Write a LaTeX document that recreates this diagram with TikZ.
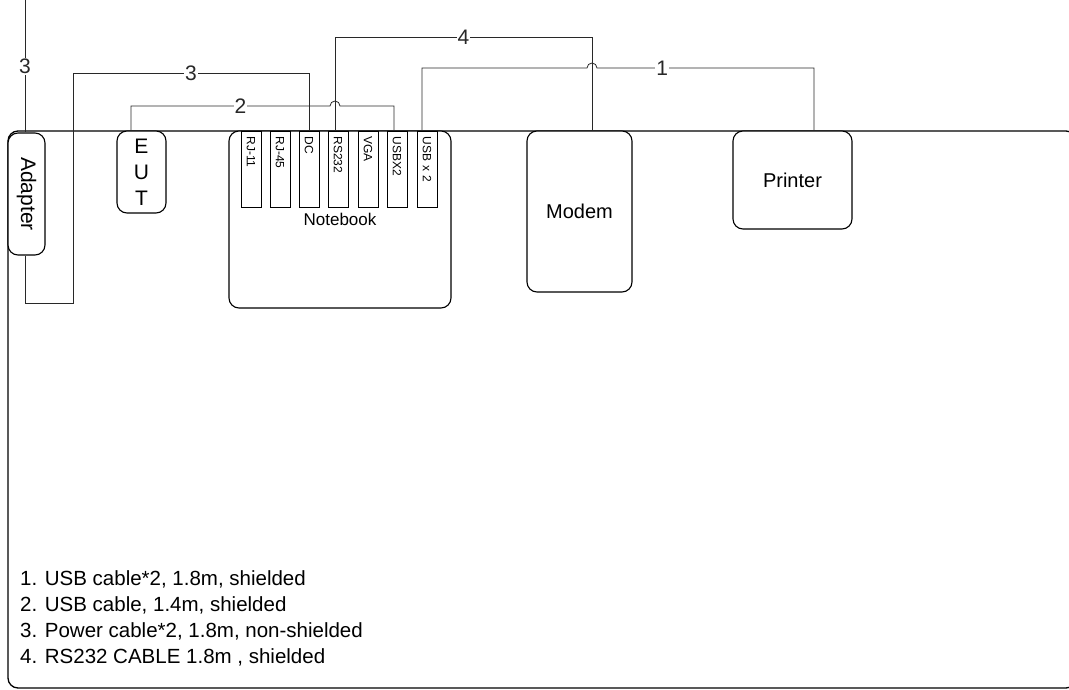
\documentclass[tikz,border=0pt]{standalone}
\usepackage{fontspec}
\setmainfont{Liberation Sans}
\usepackage{tikz}
\usetikzlibrary{positioning}
\definecolor{cablegray}{RGB}{40, 40, 40}
\tikzset{
  box/.style={
    rectangle, rounded corners=10pt,
    draw=black, fill=white, line width=1.1pt,
    font=\fontsize{20}{26}\selectfont, align=center
  },
  port/.style={
    rectangle, draw=black, fill=white, line width=1pt,
    rotate=-90, anchor=west,
    text width=66pt, inner xsep=5pt, align=left,
    minimum height=20pt, font=\fontsize{12}{14}\selectfont
  },
  cable/.style={line width=0.8pt, color=cablegray},
  lbl/.style={fill=white, inner sep=1pt, font=\fontsize{21}{24}\selectfont},
  frame/.style={line width=1.3pt, rounded corners=10pt},
}

\begin{document}
\begin{tikzpicture}[x=1pt, y=1pt]
  \useasboundingbox (0,0) rectangle (1069,-690);
  \clip (0,0) rectangle (1069,-690);

  % Table outline
  \draw[frame] (8,-131) rectangle (1076,-688);

  % Devices
  \node[box, rotate=-90, minimum width=122pt, minimum height=37pt,
        font=\fontsize{21}{26}\selectfont] (adapter) at (26.5,-194) {Adapter};
  \node[box, minimum width=49pt, minimum height=82pt, inner sep=0pt,
        font=\fontsize{21}{26}\selectfont] (eut) at (141.5,-172) {E\\U\\T};
  \node[box, minimum width=222pt, minimum height=177pt,
        font=\fontsize{17}{20}\selectfont] (nb) at (340,-219.5) {Notebook};
  \node[box, minimum width=105pt, minimum height=161pt] (modem) at (579.5,-211.5) {Modem};
  \node[box, minimum width=119pt, minimum height=98pt] (printer) at (792.5,-180) {Printer};

  % Notebook ports
  \foreach \nm/\px/\txt in {rja/251/RJ-11, rjb/280/RJ-45, dc/309/DC, rs/338/RS232,
                           vga/368/VGA, usba/397/USBX2, usbb/427/USB x 2}
    \node[port] (\nm) at (\px,-131) {\txt};

  % Cables
  \coordinate (mains) at (25,0);
  \draw[cable] (mains) -- node[lbl] {3} ([xshift=-1.5pt]adapter.west);
  \draw[cable] ([xshift=-1.5pt]adapter.east) |- (73,-303) -- (73,-73)
    -- node[lbl] {3} (309,-73) -- (dc.west);
  \draw[cable] ([xshift=-10.5pt]eut.north) -- (131,-106)
    -- node[lbl, pos=0.55] {2} (330,-106) arc (180:0:5) -| ([xshift=-3pt]usba.west);
  \draw[cable] ([xshift=-3pt]rs.west) -- (335,-37)
    -- node[lbl] {4} (592,-37) -- ([xshift=12.5pt]modem.north);
  \draw[cable] ([xshift=-5pt]usbb.west) -- (422,-68) -- (587,-68) arc (180:0:5)
    -- node[lbl, pos=0.3] {1} (814,-68) -- ([xshift=21.5pt]printer.north);

  % Legend
  \node[anchor=north west, align=left, inner sep=0pt,
        font=\fontsize{20.5}{26.3}\selectfont] (key) at (20,-570) {%
    1. USB cable*2, 1.8m, shielded\\
    2. USB cable, 1.4m, shielded\\
    3. Power cable*2, 1.8m, non-shielded\\
    4. RS232 CABLE 1.8m , shielded};

\end{tikzpicture}
\end{document}
